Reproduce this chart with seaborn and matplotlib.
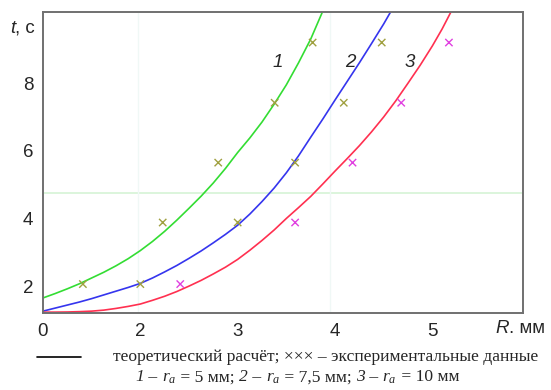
import matplotlib
matplotlib.use("Agg")
import matplotlib.pyplot as plt
import pandas as pd
import seaborn as sns
from matplotlib.offsetbox import AnnotationBbox, HPacker, TextArea

# theoretical curves (R in axis units, t in seconds)
r_curve1 = [1.0, 1.125, 1.25, 1.375, 1.5, 1.625, 1.75, 1.875, 2.0, 2.125, 2.25, 2.375, 2.5,
            2.625, 2.75, 2.875, 3.0, 3.125, 3.25, 3.375, 3.5, 3.625, 3.75, 3.87]
t_curve1 = [1.65, 1.78, 1.92, 2.07, 2.24, 2.41, 2.6, 2.81, 3.05, 3.32, 3.62, 3.95, 4.3,
            4.66, 5.05, 5.48, 5.95, 6.38, 6.85, 7.38, 7.95, 8.6, 9.3, 10.1]

r_curve2 = [1.0, 1.125, 1.25, 1.375, 1.5, 1.625, 1.75, 1.875, 2.0, 2.125, 2.25, 2.375, 2.5,
            2.625, 2.75, 2.875, 3.0, 3.125, 3.25, 3.375, 3.5, 3.625, 3.75, 3.875, 4.0,
            4.125, 4.25, 4.375, 4.5, 4.57]
t_curve2 = [1.26, 1.35, 1.44, 1.53, 1.63, 1.74, 1.85, 1.96, 2.08, 2.24, 2.42, 2.61, 2.82,
            3.04, 3.28, 3.53, 3.8, 4.13, 4.5, 4.9, 5.35, 5.85, 6.4, 6.94, 7.5,
            8.05, 8.6, 9.17, 9.75, 10.1]

r_curve3 = [1.0, 1.125, 1.25, 1.375, 1.5, 1.625, 1.75, 1.875, 2.0, 2.125, 2.25, 2.375, 2.5,
            2.625, 2.75, 2.875, 3.0, 3.125, 3.25, 3.375, 3.5, 3.625, 3.75, 3.875, 4.0,
            4.125, 4.25, 4.375, 4.5, 4.625, 4.75, 4.875, 5.0, 5.1, 5.19]
t_curve3 = [1.23, 1.231, 1.235, 1.245, 1.26, 1.29, 1.34, 1.4, 1.47, 1.58, 1.7, 1.84, 2.0,
            2.17, 2.36, 2.56, 2.79, 3.06, 3.35, 3.66, 4.0, 4.32, 4.65, 5.02, 5.4,
            5.77, 6.15, 6.56, 7.0, 7.48, 8.0, 8.53, 9.1, 9.6, 10.1]

# experimental points
r_exp1 = [1.41, 2.23, 2.8, 3.38, 3.77]
r_exp2 = [2.0, 3.0, 3.59, 4.09, 4.48]
r_exp3 = [2.41, 3.59, 4.18, 4.68, 5.17]
t_exp = [2.06, 3.88, 5.65, 7.42, 9.2]

x_ticks = [1, 2, 3, 4, 5]
x_tick_labels = ["0", "2", "3", "4", "5"]
y_ticks = [2, 4, 6, 8]
radius_labels = ["5", "7,5", "10"]

curve_colors = ["#33dd33", "#3535ee", "#ff3050"]
exp_colors = ["#a0a040", "#a0a040", "#e040e0"]

sns.set_style("white")
plt.rcParams["font.family"] = ["Liberation Sans", "DejaVu Sans"]
plt.rcParams["mathtext.fontset"] = "custom"
plt.rcParams["mathtext.it"] = "Liberation Serif:italic"
plt.rcParams["mathtext.rm"] = "Liberation Serif"

curves = pd.concat([
    pd.DataFrame({"R": r_curve1, "t": t_curve1, "curve": "1"}),
    pd.DataFrame({"R": r_curve2, "t": t_curve2, "curve": "2"}),
    pd.DataFrame({"R": r_curve3, "t": t_curve3, "curve": "3"}),
])
points = pd.concat([
    pd.DataFrame({"R": r_exp1, "t": t_exp, "curve": "1"}),
    pd.DataFrame({"R": r_exp2, "t": t_exp, "curve": "2"}),
    pd.DataFrame({"R": r_exp3, "t": t_exp, "curve": "3"}),
])

fig = plt.figure(figsize=(5.51, 3.9), dpi=100)
ax = fig.add_axes([0.078, 0.197, 0.871, 0.772])

# faint scan lines in the original
ax.axhline(4.76, color="#d6f3d6", lw=1.2, zorder=0)
for xv in [1.98, 3.95]:
    ax.axvline(xv, color="#f0f8f6", lw=1.0, zorder=0)

sns.lineplot(data=curves, x="R", y="t", hue="curve", palette=curve_colors,
             sort=False, estimator=None, lw=1.2, legend=False, ax=ax)
sns.scatterplot(data=points, x="R", y="t", hue="curve", palette=exp_colors,
                marker="x", s=28, linewidth=1.0, legend=False, ax=ax, zorder=3)

ax.set_xlim(1.0, 5.93)
ax.set_ylim(1.2, 10.1)
ax.set_xticks(x_ticks)
ax.set_xticklabels(x_tick_labels)
ax.set_yticks(y_ticks)
ax.tick_params(length=0, labelsize=13.5, pad=7)
ax.set_xlabel("")
ax.set_ylabel("")
for s in ax.spines.values():
    s.set_color("#707070")
    s.set_linewidth(1.4)

for lbl, xv in zip(["1", "2", "3"], [3.415, 4.155, 4.77]):
    ax.text(xv, 8.62, lbl, fontsize=13.5, style="italic", ha="center", va="center")


def text_row(parts, size, family):
    boxes = [TextArea(txt, textprops=dict(fontsize=size, family=family,
                                          style="italic" if it else "normal",
                                          math_fontfamily="custom"))
             for txt, it in parts]
    return HPacker(children=boxes, pad=0, sep=0, align="baseline")


def place(row, xy, align):
    ab = AnnotationBbox(row, xy, xycoords="figure fraction", frameon=False,
                        box_alignment=align, pad=0)
    fig.add_artist(ab)


# axis titles
place(text_row([("t", True), (", c", False)], 13.5, "Liberation Sans"), (0.018, 0.928), (0, 0.5))
place(text_row([("R", True), (". мм", False)], 13.5, "Liberation Sans"), (0.9, 0.158), (0, 0.5))

# caption
fig.add_artist(plt.Line2D([0.067, 0.147], [0.085, 0.085], color="black", lw=1.2))
fig.text(0.205, 0.085, "теоретический расчёт; ××× – экспериментальные данные",
         fontsize=12.6, family="Liberation Serif", va="center", ha="left")
parts = []
for i, rad in enumerate(radius_labels):
    parts.append((str(i + 1), True))
    parts.append((" – ", False))
    parts.append((r"$r_a$", False))
    parts.append((" = " + rad + " мм" + ("; " if i < 2 else ""), False))
place(text_row(parts, 12.6, "Liberation Serif"), (0.54, 0.032), (0.5, 0.5))

fig.savefig("out.png", dpi=100)
